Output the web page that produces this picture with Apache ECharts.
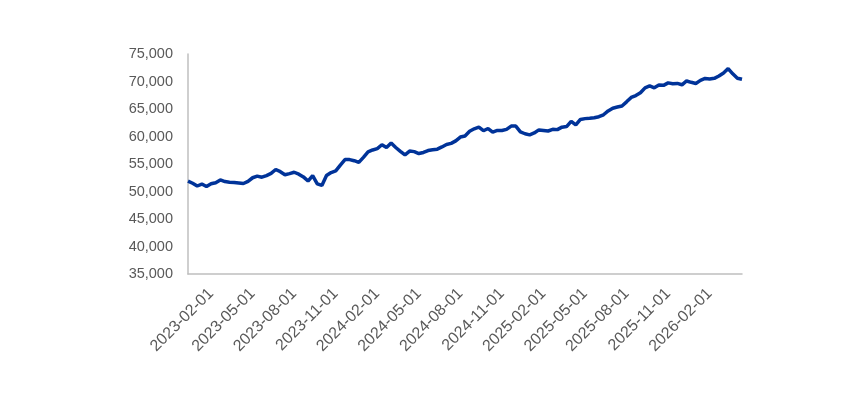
<!DOCTYPE html>
<html>
<head>
<meta charset="utf-8">
<script src="https://cdn.jsdelivr.net/npm/echarts@6/dist/echarts.min.js"></script>
<style>html,body{margin:0;padding:0;background:#fff}#chart{width:867px;height:396px}</style>
</head>
<body>
<div id="chart"></div>
<script>
// Category dates (three observations per month)
var dates = [
'2022-12-11','2022-12-21',
'2023-01-01','2023-01-11','2023-01-21','2023-02-01','2023-02-11','2023-02-21','2023-03-01','2023-03-11','2023-03-21',
'2023-04-01','2023-04-11','2023-04-21','2023-05-01','2023-05-11','2023-05-21','2023-06-01','2023-06-11','2023-06-21',
'2023-07-01','2023-07-11','2023-07-21','2023-08-01','2023-08-11','2023-08-21','2023-09-01','2023-09-11','2023-09-21',
'2023-10-01','2023-10-11','2023-10-21','2023-11-01','2023-11-11','2023-11-21','2023-12-01','2023-12-11','2023-12-21',
'2024-01-01','2024-01-11','2024-01-21','2024-02-01','2024-02-11','2024-02-21','2024-03-01','2024-03-11','2024-03-21',
'2024-04-01','2024-04-11','2024-04-21','2024-05-01','2024-05-11','2024-05-21','2024-06-01','2024-06-11','2024-06-21',
'2024-07-01','2024-07-11','2024-07-21','2024-08-01','2024-08-11','2024-08-21','2024-09-01','2024-09-11','2024-09-21',
'2024-10-01','2024-10-11','2024-10-21','2024-11-01','2024-11-11','2024-11-21','2024-12-01','2024-12-11','2024-12-21',
'2025-01-01','2025-01-11','2025-01-21','2025-02-01','2025-02-11','2025-02-21','2025-03-01','2025-03-11','2025-03-21',
'2025-04-01','2025-04-11','2025-04-21','2025-05-01','2025-05-11','2025-05-21','2025-06-01','2025-06-11','2025-06-21',
'2025-07-01','2025-07-11','2025-07-21','2025-08-01','2025-08-11','2025-08-21','2025-09-01','2025-09-11','2025-09-21',
'2025-10-01','2025-10-11','2025-10-21','2025-11-01','2025-11-11','2025-11-21','2025-12-01','2025-12-11','2025-12-21',
'2026-01-01','2026-01-11','2026-01-21','2026-02-01','2026-02-11','2026-02-21','2026-03-01','2026-03-11','2026-03-21',
'2026-04-01','2026-04-11'
];

// Series values
var values = [
51900,51500,
51000,51350,50900,51400,51600,52100,51800,51700,51650,
51550,51450,51850,52500,52800,52600,52900,53300,54000,
53600,53050,53250,53500,53150,52650,51900,52900,51400,
51100,52900,53450,53750,54800,55800,55800,55600,55300,
56200,57200,57550,57800,58500,58000,58800,58000,57300,
56650,57350,57250,56900,57100,57450,57600,57700,58100,
58550,58750,59200,59900,60100,60950,61400,61700,61050,
61450,60800,61100,61100,61300,61900,61900,60850,60500,
60300,60650,61200,61100,61000,61300,61250,61700,61800,
62750,62100,63100,63250,63300,63400,63600,63950,64650,
65150,65350,65550,66300,67100,67450,67950,68850,69200,
68850,69350,69300,69750,69600,69650,69400,70100,69850,
69650,70200,70550,70450,70580,71000,71550,72350,71400,
70600,70400
];

// Tick labels shown on the x axis
var xTickLabels = ['2023-02-01','2023-05-01','2023-08-01','2023-11-01','2024-02-01','2024-05-01',
  '2024-08-01','2024-11-01','2025-02-01','2025-05-01','2025-08-01','2025-11-01','2026-02-01'];

// Y axis range
var yMin = 35000, yMax = 75000, yStep = 5000;

var chart = echarts.init(document.getElementById('chart'), null, {renderer: 'canvas'});
chart.setOption({
  animation: false,
  backgroundColor: '#ffffff',
  grid: {left: 188, right: 125, top: 54, bottom: 122, containLabel: false},
  xAxis: {
    type: 'category',
    data: dates,
    boundaryGap: false,
    axisLine: {show: true, lineStyle: {color: '#bfbfbf', width: 1.5}},
    axisTick: {show: false},
    splitLine: {show: false},
    axisLabel: {
      rotate: 45,
      margin: 17,
      color: '#595959',
      fontFamily: 'Liberation Sans',
      fontSize: 16,
      interval: function (index, value) { return xTickLabels.indexOf(value) >= 0; }
    }
  },
  yAxis: {
    type: 'value',
    min: yMin, max: yMax, interval: yStep,
    axisLine: {show: true, lineStyle: {color: '#bfbfbf', width: 1.5}},
    axisTick: {show: false},
    splitLine: {show: false},
    axisLabel: {
      margin: 15,
      color: '#595959',
      fontFamily: 'Liberation Sans',
      fontSize: 14.5,
      formatter: function (v) { return v.toLocaleString('en-US'); }
    }
  },
  series: [{
    type: 'line',
    data: values,
    showSymbol: false,
    symbol: 'none',
    lineStyle: {color: '#003399', width: 3.5},
    itemStyle: {color: '#003399'}
  }]
});
</script>
</body>
</html>
